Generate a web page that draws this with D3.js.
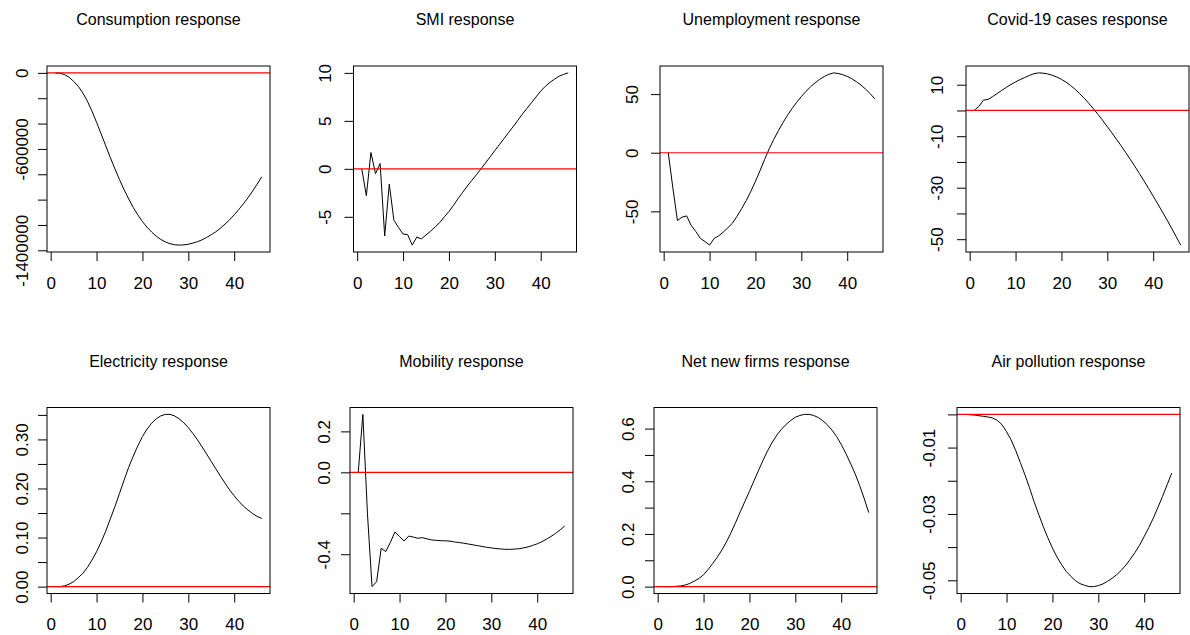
<!DOCTYPE html>
<html>
<head>
<meta charset="utf-8">
<script src="https://cdn.jsdelivr.net/npm/d3@7"></script>
<style>
  body { margin: 0; background: #fff; }
  svg text { font-family: "Liberation Sans", Arial, sans-serif; fill: #000; }
</style>
</head>
<body>
<div id="chart"></div>
<script>
// horizons 1..46
const steps = d3.range(1, 47);
const xTicks = [0, 10, 20, 30, 40];

const titles = [
    "Consumption response", "SMI response", "Unemployment response", "Covid-19 cases response",
    "Electricity response", "Mobility response", "Net new firms response", "Air pollution response"
];

const consumption = [0, -3000, -13000, -34000, -66000, -105000, -158000, -223000, -302000, -390000,
    -482000, -575000, -668000, -757000, -842000, -922000, -995000, -1062000, -1121000, -1173000,
    -1218000, -1256000, -1288000, -1314000, -1334000, -1348000, -1356000, -1359000, -1357000, -1352000,
    -1343000, -1332000, -1317000, -1298000, -1277000, -1254000, -1225000, -1193000, -1159000, -1120000,
    -1078000, -1033000, -986000, -933000, -878000, -820000];
const smi = [0, -2.8, 1.7, -0.5, 0.55, -7.0, -1.6, -5.35, -6.1, -6.8,
    -6.85, -7.95, -7.1, -7.3, -6.9, -6.5, -6.05, -5.6, -5.0, -4.45,
    -3.8, -3.1, -2.45, -1.8, -1.2, -0.6, 0.0, 0.63, 1.26, 1.9,
    2.52, 3.15, 3.78, 4.4, 5.05, 5.7, 6.3, 6.9, 7.5, 8.1,
    8.6, 9.0, 9.35, 9.65, 9.85, 10.0];
const unemployment = [0, -30, -57.8, -55, -53.9, -62, -67.2, -73.1, -75.7, -78.8,
    -73.1, -70.9, -67.6, -64, -60.1, -54.1, -47.6, -40.8, -32.9, -24.4,
    -15.3, -5.7, 3.4, 11.4, 18.8, 25.7, 32.0, 37.8, 43.1, 47.9,
    52.3, 56.2, 59.6, 62.6, 65.0, 66.9, 68.1, 67.6, 66.6, 65.1,
    63.1, 60.6, 57.7, 54.3, 50.4, 46.0];
const covid = [0, 1.6, 4.0, 4.3, 5.4, 6.6, 7.8, 9.0, 10.1, 11.1,
    12.0, 12.8, 13.6, 14.3, 14.6, 14.5, 14.2, 13.7, 13.0, 12.1,
    11.0, 9.7, 8.2, 6.5, 4.7, 2.7, 0.6, -1.6, -3.9, -6.3,
    -8.7, -11.2, -13.7, -16.3, -19.0, -21.7, -24.5, -27.4, -30.3, -33.3,
    -36.3, -39.4, -42.5, -45.7, -49.0, -52.3];
const electricity = [0, 0, 0.0015, 0.005, 0.010, 0.018, 0.027, 0.039, 0.054, 0.071,
    0.091, 0.113, 0.138, 0.163, 0.19, 0.217, 0.243, 0.266, 0.287, 0.306,
    0.321, 0.333, 0.342, 0.348, 0.351, 0.351, 0.348, 0.342, 0.334, 0.324,
    0.312, 0.299, 0.285, 0.27, 0.255, 0.24, 0.225, 0.211, 0.197, 0.185,
    0.174, 0.164, 0.156, 0.149, 0.143, 0.139];
const mobility = [0, 0.283, -0.2, -0.558, -0.534, -0.371, -0.387, -0.342, -0.291, -0.314,
    -0.335, -0.311, -0.316, -0.322, -0.319, -0.325, -0.33, -0.332, -0.334, -0.334,
    -0.336, -0.34, -0.343, -0.346, -0.35, -0.354, -0.358, -0.362, -0.366, -0.369,
    -0.372, -0.374, -0.376, -0.376, -0.375, -0.373, -0.369, -0.364, -0.357, -0.349,
    -0.339, -0.327, -0.313, -0.298, -0.281, -0.262];
const firms = [0, 0, 0, 0.001, 0.0025, 0.006, 0.012, 0.021, 0.031, 0.045,
    0.065, 0.088, 0.112, 0.139, 0.17, 0.205, 0.244, 0.284, 0.323, 0.362,
    0.402, 0.442, 0.481, 0.517, 0.549, 0.576, 0.598, 0.616, 0.631, 0.643,
    0.65, 0.654, 0.654, 0.65, 0.642, 0.63, 0.614, 0.594, 0.57, 0.54,
    0.506, 0.469, 0.43, 0.385, 0.335, 0.281];
const airPollution = [0, -0.0001, -0.0002, -0.0004, -0.0006, -0.0008, -0.0011, -0.0018, -0.0031, -0.0052,
    -0.0077, -0.0109, -0.0145, -0.0182, -0.0221, -0.0263, -0.0301, -0.0338, -0.0372, -0.0403,
    -0.0430, -0.0453, -0.0473, -0.0488, -0.0501, -0.0510, -0.0515, -0.0519, -0.0519, -0.0516,
    -0.0511, -0.0503, -0.0494, -0.0483, -0.0470, -0.0454, -0.0436, -0.0416, -0.0394, -0.0368,
    -0.0341, -0.0312, -0.0280, -0.0247, -0.0212, -0.0177];

// y ticks, and the labels R kept (blank = label dropped for overlap)
const yTicks = [
    [-1400000, -1200000, -1000000, -800000, -600000, -400000, -200000, 0],
    [-5, 0, 5, 10],
    [-50, 0, 50],
    [-50, -40, -30, -20, -10, 0, 10],
    [0, 0.05, 0.10, 0.15, 0.20, 0.25, 0.30, 0.35],
    [-0.4, -0.2, 0, 0.2],
    [0, 0.1, 0.2, 0.3, 0.4, 0.5, 0.6],
    [-0.05, -0.04, -0.03, -0.02, -0.01, 0]
];
const yLabels = [
    ["-1400000", "", "", "", "-600000", "", "", "0"],
    ["-5", "0", "5", "10"],
    ["-50", "0", "50"],
    ["-50", "", "-30", "", "-10", "", "10"],
    ["0.00", "", "0.10", "", "0.20", "", "0.30", ""],
    ["-0.4", "", "0.0", "0.2"],
    ["0.0", "", "0.2", "", "0.4", "", "0.6"],
    ["-0.05", "", "-0.03", "", "-0.01", ""]
];

const series = [consumption, smi, unemployment, covid, electricity, mobility, firms, airPollution];

// layout
const width = 1190, height = 635;
const boxLeft = [47, 353.5, 660, 966, 47, 350, 654, 957];
const boxTop = [66, 66, 66, 66, 407.5, 407.5, 407.5, 407.5];
const boxW = 223, boxH = 186;
const yLabelGap = [19, 22.5, 22.5, 23.5, 19.5, 20.5, 20, 22.5];

const svg = d3.select("#chart")
    .append("svg")
    .attr("width", width)
    .attr("height", height);

series.forEach((values, i) => {
    const g = svg.append("g")
        .attr("transform", `translate(${boxLeft[i]},${boxTop[i]})`);

    // R style 4% padding on both axes
    const x = d3.scaleLinear()
        .domain([1 - 0.04 * 45, 46 + 0.04 * 45])
        .range([0, boxW]);
    const [lo, hi] = d3.extent(values);
    const pad = (hi - lo) * 0.04;
    const y = d3.scaleLinear()
        .domain([lo - pad, hi + pad])
        .range([boxH, 0]);

    const line = d3.line()
        .x((d, j) => x(steps[j]))
        .y(d => y(d));

    g.append("path")
        .datum(values)
        .attr("d", line)
        .attr("fill", "none")
        .attr("stroke", "#000")
        .attr("stroke-width", 1);

    // zero line
    g.append("line")
        .attr("x1", 0)
        .attr("x2", boxW)
        .attr("y1", y(0))
        .attr("y2", y(0))
        .attr("stroke", "#ff0000")
        .attr("stroke-width", 1.2);

    g.append("rect")
        .attr("width", boxW)
        .attr("height", boxH)
        .attr("fill", "none")
        .attr("stroke", "#000")
        .attr("stroke-width", 1);

    // x axis
    g.append("g")
        .attr("transform", `translate(0,${boxH})`)
        .call(d3.axisBottom(x).tickValues(xTicks).tickSize(9).tickPadding(15.5).tickFormat(d3.format("d")))
        .attr("font-size", null)
        .attr("font-family", null)
        .call(a => a.select(".domain").remove())
        .selectAll("text")
        .style("font-size", "17px");

    // y axis, labels rotated like R's las = 0
    g.append("g")
        .call(d3.axisLeft(y).tickValues(yTicks[i]).tickSize(9).tickFormat((d, k) => yLabels[i][k]))
        .attr("font-size", null)
        .attr("font-family", null)
        .call(a => a.select(".domain").remove())
        .selectAll("text")
        .attr("x", null)
        .attr("dy", null)
        .attr("text-anchor", "middle")
        .attr("transform", `translate(${-yLabelGap[i]},0) rotate(-90)`)
        .style("font-size", "17px");

    svg.append("text")
        .attr("x", boxLeft[i] + boxW / 2)
        .attr("y", boxTop[i] - 41)
        .attr("text-anchor", "middle")
        .style("font-size", "16px")
        .text(titles[i]);
});
</script>
</body>
</html>
